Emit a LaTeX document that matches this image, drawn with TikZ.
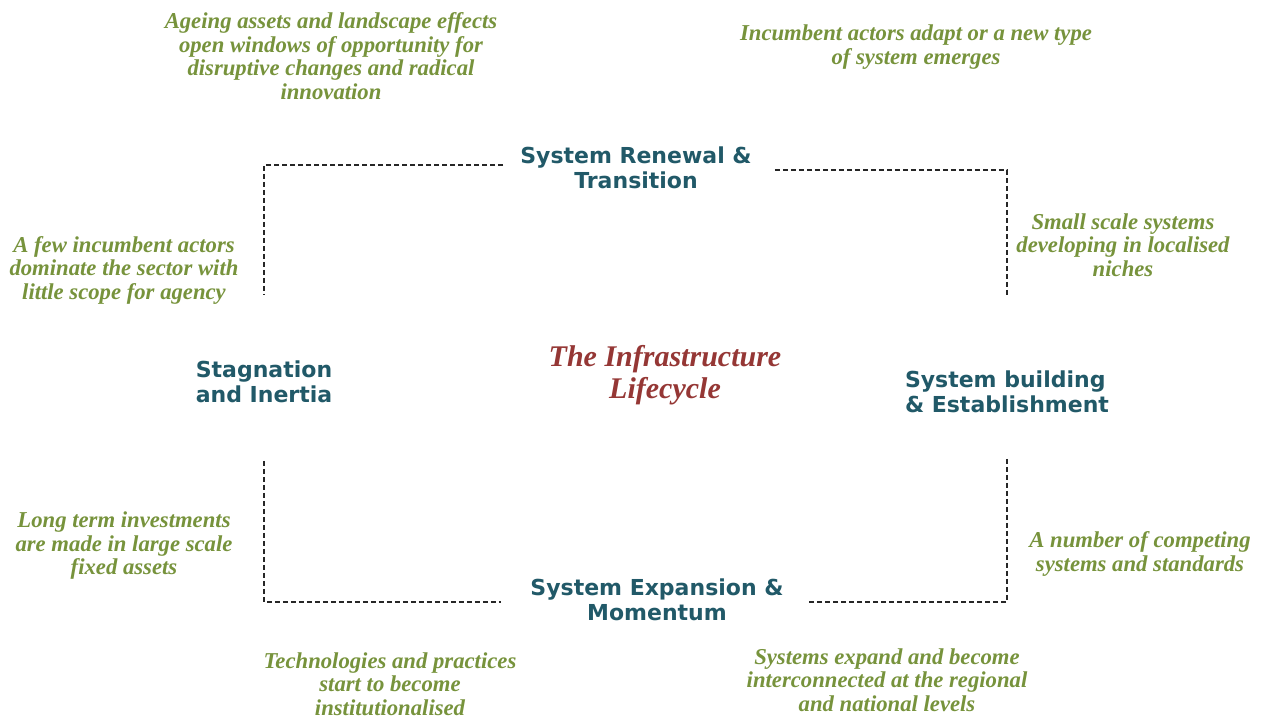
\documentclass[tikz,border=0pt]{standalone}
\usepackage{fontspec}
\setmainfont{Liberation Serif}
\newfontfamily\stagefont{DejaVu Sans}
\begin{document}
\begin{tikzpicture}[x=1pt,y=-1pt,
  stage/.style={text=stageColor,align=center,inner sep=0pt,
    font=\stagefont\bfseries\fontsize{22}{24.5}\selectfont},
  remark/.style={text=remarkColor,align=center,inner sep=0pt,
    font=\bfseries\itshape\fontsize{22.7}{23.5}\selectfont},
  heading/.style={text=headingColor,align=center,inner sep=0pt,
    font=\bfseries\itshape\fontsize{30}{32}\selectfont},
  link/.style={draw=black!85,line width=1.2pt,dash pattern=on 5pt off 3pt}]
\definecolor{stageColor}{RGB}{33,89,104}
\definecolor{remarkColor}{RGB}{119,147,60}
\definecolor{headingColor}{RGB}{149,55,53}
\path[use as bounding box,fill=white] (0,0) rectangle (1261,718);

% the four stages
\node[stage] (renewal) at (636,168) {System Renewal \&\\Transition};
\node[stage] (stagnation) at (264,382) {Stagnation\\and Inertia};
\node[stage,align=left] (building) at (1007,392) {System building\\\& Establishment};
\node[stage] (expansion) at (657,600) {System Expansion \&\\Momentum};

\node[heading] (lifecycle) at (665,375) {The Infrastructure\\Lifecycle};

% remarks round the cycle
\node[remark] (ageing) at (331,56) {Ageing assets and landscape effects\\open windows of opportunity for\\disruptive changes and radical\\innovation};
\node[remark] (adapt) at (916,47) {Incumbent actors adapt or a new type\\of system emerges};
\node[remark] (niches) at (1123,245) {Small scale systems\\developing in localised\\niches};
\node[remark] (incumbent) at (124,270) {A few incumbent actors\\dominate the sector with\\little scope for agency};
\node[remark] (investments) at (124,546) {Long term investments\\are made in large scale\\fixed assets};
\node[remark] (competing) at (1140,554) {A number of competing\\systems and standards};
\node[remark] (practices) at (390,684) {Technologies and practices\\start to become\\institutionalised};
\node[remark] (interconnected) at (887,680) {Systems expand and become\\interconnected at the regional\\and national levels};

% dashed cycle
\draw[link] ([xshift=-17pt,yshift=3pt]renewal.west) -| ([yshift=66pt]stagnation.north);
\draw[link] ([xshift=23pt,yshift=-2pt]renewal.east) -| ([yshift=75pt]building.north);
\draw[link] ([yshift=-58pt]stagnation.south) |- ([xshift=-29pt,yshift=-2pt]expansion.west);
\draw[link] ([yshift=-46pt]building.south) |- ([xshift=24pt,yshift=-2pt]expansion.east);
\end{tikzpicture}
\end{document}
